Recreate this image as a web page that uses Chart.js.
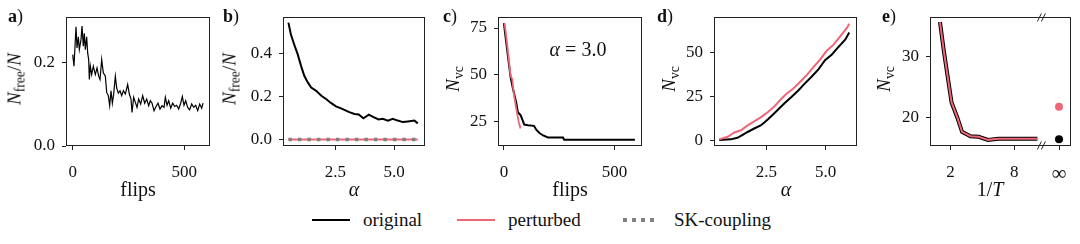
<!DOCTYPE html>
<html>
<head>
<meta charset="utf-8">
<script src="https://cdn.jsdelivr.net/npm/chart.js@4.4.0/dist/chart.umd.min.js"></script>
<style>
  body { margin: 0; background: #fff; width: 1080px; height: 244px; position: relative; overflow: hidden;
         font-family: "Liberation Serif", serif; color: #111; }
  canvas { position: absolute; top: 0; }
  .lbl { position: absolute; font-size: 18px; line-height: 1; }
  .tx  { position: absolute; white-space: nowrap; transform: translate(-50%, -50%); font-size: 20px; line-height: 1; }
  .ty  { position: absolute; white-space: nowrap; transform: translate(-50%, -50%) rotate(-90deg); font-size: 19px; line-height: 1; }
  sub  { font-size: 72%; vertical-align: -0.3em; line-height: 0; }
  .leg { position: absolute; top: 210px; font-size: 19px; line-height: 20px; white-space: nowrap; }
  .sw  { position: absolute; width: 38px; }
</style>
</head>
<body>
<canvas id="pa"></canvas>
<canvas id="pb"></canvas>
<canvas id="pc"></canvas>
<canvas id="pd"></canvas>
<canvas id="pe"></canvas>
<div id="texts"></div>
<script>
// ─── Colours ──────────────────────────────────────────────────────────────────
const BLACK = "#000000";
const RED   = "#ee6677";
const GRAY  = "#808080";
const SERIF = "'Liberation Serif', serif";

// ─── a) free fraction along the flips ────────────────────────────────────────
const aFlips = [0, 5.8, 14.8, 19.3, 25.2, 29.7, 37.2, 41.7, 47.6, 52.1, 56.6, 62.6, 67.1, 71.5, 74.5,
                79, 85, 92.4, 101.4, 108.9, 116.3, 122.3, 129.8, 137.2, 146.2, 152.2, 159.6, 165.6,
                171.6, 177.6, 183.5, 191, 197, 204.4, 211.9, 219.4, 226.8, 235.8, 246.2, 253.7, 261.2,
                265.7, 273.1, 280.6, 288, 295.5, 304.5, 313.5, 322.4, 331.4, 340.3, 347.8, 355.3,
                364.2, 373.2, 382.1, 391.1, 400.1, 409, 415, 422.5, 429.9, 438.9, 447.9, 456.8, 465.8,
                474.7, 483.7, 491.1, 498.6, 506.1, 515.1, 524, 533, 541.9, 550.9, 559.9, 568.8, 577.8, 583.8];
const aFree  = [0.220, 0.192, 0.287, 0.236, 0.263, 0.232, 0.256, 0.289, 0.240, 0.271, 0.232, 0.263,
                0.224, 0.208, 0.160, 0.192, 0.172, 0.192, 0.172, 0.188, 0.168, 0.160, 0.208, 0.176,
                0.168, 0.129, 0.121, 0.097, 0.133, 0.103, 0.125, 0.168, 0.140, 0.127, 0.133, 0.121,
                0.133, 0.125, 0.148, 0.125, 0.113, 0.081, 0.117, 0.105, 0.093, 0.113, 0.101, 0.121,
                0.103, 0.113, 0.097, 0.109, 0.103, 0.085, 0.095, 0.103, 0.089, 0.097, 0.093, 0.117,
                0.098, 0.109, 0.091, 0.103, 0.095, 0.098, 0.089, 0.103, 0.119, 0.098, 0.109, 0.093,
                0.087, 0.101, 0.093, 0.098, 0.085, 0.101, 0.091, 0.103];

// ─── b) free fraction vs alpha ───────────────────────────────────────────────
const bAlpha = [0.5, 0.61, 0.75, 0.9, 1.04, 1.18, 1.33, 1.47, 1.68, 1.9, 2.1, 2.31, 2.52, 2.74, 2.95,
                3.09, 3.31, 3.49, 3.69, 3.92, 4.12, 4.34, 4.51, 4.73, 4.94, 5.15, 5.37, 5.58, 5.86, 6.0];
const bOrig  = [0.543, 0.486, 0.44, 0.394, 0.341, 0.295, 0.264, 0.241, 0.226, 0.203, 0.188, 0.17, 0.154,
                0.145, 0.134, 0.127, 0.119, 0.116, 0.099, 0.116, 0.104, 0.093, 0.096, 0.088, 0.096, 0.088,
                0.081, 0.084, 0.088, 0.075];
const bPertAlpha = [0.5, 6.0];
const bPert      = [0, 0];
const bSK        = [0, 0];

// ─── c) vertex cover along the flips, alpha = 3.0 ────────────────────────────
const cOrigFlips = [0, 15, 30, 40, 56, 63, 76, 92, 109, 136, 147, 162, 177, 199, 267, 272, 592];
const cOrig      = [77.6, 63, 49, 43, 34.8, 29.9, 28.2, 23.3, 22.9, 22.6, 20.4, 18.6, 17.5, 16.4, 16.4, 15.2, 15.2];
const cPertFlips = [3, 11, 21, 30, 38, 45, 56, 67, 75];
const cPert      = [77.6, 70.3, 59.7, 49.6, 47.5, 39.6, 31.7, 24.7, 21.2];

// ─── d) vertex cover vs alpha ────────────────────────────────────────────────
const dOrigAlpha = [0.51, 1.0, 1.28, 1.5, 1.71, 1.99, 2.28, 2.56, 2.85, 3.06, 3.28, 3.56, 3.84, 4.13,
                    4.41, 4.7, 4.98, 5.27, 5.55, 5.84, 6.0];
const dOrig      = [0, 0.4, 1.3, 3.0, 4.6, 6.6, 8.5, 11.8, 15.5, 18.3, 21.2, 24.6, 28.2, 32.4, 36.2,
                    40.4, 45.6, 48.9, 53.2, 57.5, 61.4];
const dPertAlpha = [0.51, 0.87, 1.15, 1.43, 1.71, 1.99, 2.28, 2.56, 2.85, 3.13, 3.34, 3.63, 3.91, 4.2,
                    4.48, 4.77, 5.05, 5.34, 5.62, 5.91, 6.0];
const dPert      = [0.4, 1.9, 4.3, 5.6, 8.4, 10.7, 13.1, 15.9, 19.3, 23.5, 26.3, 29.3, 33.0, 37.0, 41.5,
                    46.0, 51.0, 54.5, 59.3, 64.2, 66.5];

// ─── e) vertex cover vs inverse temperature ──────────────────────────────────
const eInvT  = [1.0, 1.37, 1.69, 2.09, 2.62, 3.08, 3.87, 4.64, 5.51, 6.5, 8.06, 10.17];
const eOrig  = [35.6, 30.8, 27.1, 22.5, 20.1, 17.7, 17.0, 16.9, 16.4, 16.6, 16.6, 16.6];
const ePert  = [35.6, 30.8, 27.1, 22.5, 20.1, 17.7, 17.0, 16.9, 16.4, 16.6, 16.6, 16.6];
const eInfPos   = 12.21;   // where T = 0 sits on the broken axis
const eBreakPos = 10.55;
const eInfOrig  = 16.5;
const eInfPert  = 21.8;

// ─── Legend entries ──────────────────────────────────────────────────────────
const legendNames  = ["original", "perturbed", "SK-coupling"];
const legendColors = [BLACK, RED, GRAY];

// ─── Helpers ─────────────────────────────────────────────────────────────────
Chart.defaults.font.family = SERIF;
Chart.defaults.font.size = 17;

const pts = (xs, ys) => xs.map((x, i) => ({ x, y: ys[i] }));

const framePlugin = {
  id: "frame",
  afterDraw(chart) {
    const { ctx, chartArea: a } = chart;
    ctx.save();
    ctx.strokeStyle = "#222";
    ctx.lineWidth = 1;
    const l = Math.round(a.left) + 0.5, t = Math.round(a.top) + 0.5;
    const r = Math.round(a.right) - 0.5, b = Math.round(a.bottom) - 0.5;
    ctx.strokeRect(l, t, r - l, b - t);
    const br = chart.options.plugins.frame.breakAt;
    if (br != null) {
      const x = chart.scales.x.getPixelForValue(br);
      [t, b].forEach(y => {
        [-2, 2].forEach(d => {
          ctx.beginPath();
          ctx.moveTo(x + d - 2, y + 4);
          ctx.lineTo(x + d + 2, y - 4);
          ctx.stroke();
        });
      });
    }
    ctx.restore();
  }
};

function axis(min, max, ticks, fmt, isX, bigTick) {
  return {
    type: "linear", min, max,
    afterBuildTicks: s => { s.ticks = ticks.map(v => ({ value: v })); },
    afterFit: s => { if (isX) s.height = 54; else s.width = 60; },
    ticks: {
      color: "#111",
      font: c => ({ family: SERIF, size: (bigTick != null && c.tick && c.tick.value === bigTick) ? 21 : 17 }),
      padding: isX ? 12 : 7, autoSkip: false, maxRotation: 0, callback: fmt
    },
    grid: { drawOnChartArea: false, drawTicks: true, tickLength: 4, color: "#222" },
    border: { display: false }
  };
}

// order: lower number is painted on top
function line(data, color, width, order, extra) {
  return Object.assign({ data, borderColor: color, backgroundColor: color, borderWidth: width, order,
                         pointRadius: 0, tension: 0, fill: false }, extra || {});
}

function panel(id, left, plotW, datasets, xs, ys, breakAt) {
  const cv = document.getElementById(id);
  cv.width = plotW + 66; cv.height = 200;
  cv.style.left = (left - 60) + "px";
  return new Chart(cv, {
    type: "line",
    data: { datasets },
    options: {
      responsive: false, animation: false, devicePixelRatio: 1, parsing: false,
      layout: { padding: { left: 0, right: 6, top: 15, bottom: 0 } },
      scales: { x: xs, y: ys },
      plugins: { legend: { display: false }, tooltip: { enabled: false }, frame: { breakAt } }
    },
    plugins: [framePlugin]
  });
}

const f1 = v => v.toFixed(1);
const f0 = v => String(v);

// ─── Panels ──────────────────────────────────────────────────────────────────
panel("pa", 66, 144,
  [line(pts(aFlips, aFree), BLACK, 1.2, 0)],
  axis(-30, 615, [0, 500], f0, true), axis(0, 0.31, [0, 0.2], f1, false));

panel("pb", 283, 142,
  [line(pts(bAlpha, bOrig), BLACK, 2, 0),
   line(pts(bPertAlpha, bPert), RED, 2, 2),
   line(pts(bPertAlpha, bSK), GRAY, 3.5, 1, { borderDash: [3.5, 6], borderCapStyle: "butt" })],
  axis(0.27, 6.31, [2.5, 5.0], f1, true), axis(-0.03, 0.568, [0, 0.2, 0.4], f1, false));

panel("pc", 498, 144,
  [line(pts(cOrigFlips, cOrig), BLACK, 2, 1),
   line(pts(cPertFlips, cPert), RED, 1.8, 0)],
  axis(-26.6, 624, [0, 500], f0, true), axis(11.8, 80.8, [25, 50, 75], f0, false));

panel("pd", 714, 143,
  [line(pts(dPertAlpha, dPert), RED, 2, 0),
   line(pts(dOrigAlpha, dOrig), BLACK, 2, 1)],
  axis(0.29, 6.33, [2.5, 5.0], f1, true), axis(-3.4, 70.2, [0, 25, 50], f0, false));

panel("pe", 930, 143,
  [line(pts(eInvT, eOrig), BLACK, 4, 1),
   line(pts(eInvT, ePert), RED, 2, 0),
   line([{ x: eInfPos, y: eInfOrig }], BLACK, 0, 0, { showLine: false, pointRadius: 4, pointBorderWidth: 0 }),
   line([{ x: eInfPos, y: eInfPert }], RED, 0, 0, { showLine: false, pointRadius: 4, pointBorderWidth: 0 })],
  axis(0.06, 13.32, [2, 8, eInfPos], v => (v === eInfPos ? "∞" : String(v)), true, eInfPos),
  axis(15.4, 36.4, [20, 30], f0, false), eBreakPos);

// ─── Texts ───────────────────────────────────────────────────────────────────
const texts = [
  ["lbl", 8, 7, "<b>a</b>)"], ["lbl", 223, 7, "<b>b</b>)"], ["lbl", 443, 7, "<b>c</b>)"],
  ["lbl", 657, 7, "<b>d</b>)"], ["lbl", 882, 7, "<b>e</b>)"],
  ["ty", 14, 79, "<i>N</i><sub>free</sub>/<i>N</i>"], ["ty", 229, 79, "<i>N</i><sub>free</sub>/<i>N</i>"],
  ["ty", 452, 79, "<i>N</i><sub>vc</sub>"], ["ty", 668, 79, "<i>N</i><sub>vc</sub>"],
  ["ty", 883, 79, "<i>N</i><sub>vc</sub>"],
  ["tx", 138, 189, "flips"], ["tx", 354, 189, "<i>α</i>"], ["tx", 570, 189, "flips"],
  ["tx", 786, 189, "<i>α</i>"], ["tx", 990, 189, "1/<i>T</i>"],
  ["tx", 578, 49, "<i>α</i> = 3.0"]
];
const box = document.getElementById("texts");
texts.forEach(([cls, x, y, html]) => {
  const d = document.createElement("div");
  d.className = cls;
  d.style.left = x + "px"; d.style.top = y + "px";
  d.innerHTML = html;
  box.appendChild(d);
});

// ─── Legend ──────────────────────────────────────────────────────────────────
const legendX = [312, 457, 623];
legendNames.forEach((name, i) => {
  const sw = document.createElement("div");
  sw.className = "sw";
  sw.style.left = legendX[i] + "px";
  if (name === "SK-coupling") {
    sw.style.top = "218px"; sw.style.height = "4px"; sw.style.width = "34px";
    sw.style.background = `repeating-linear-gradient(90deg, ${legendColors[i]} 0 4px, transparent 4px 9px)`;
  } else {
    sw.style.top = "219px"; sw.style.height = "2px";
    sw.style.background = legendColors[i];
  }
  box.appendChild(sw);
  const t = document.createElement("div");
  t.className = "leg";
  t.style.left = (legendX[i] + 51) + "px";
  t.textContent = name;
  box.appendChild(t);
});
</script>
</body>
</html>
